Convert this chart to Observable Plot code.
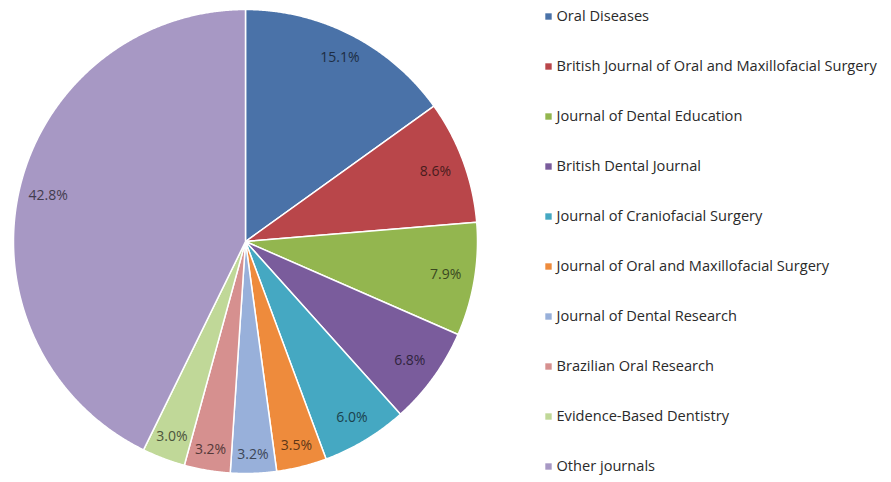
<!DOCTYPE html>
<html>
<head>
<meta charset="utf-8">
<script src="https://cdn.jsdelivr.net/npm/d3@7"></script>
<script src="https://cdn.jsdelivr.net/npm/@observablehq/plot@0.6"></script>
<style>
  html, body { margin: 0; padding: 0; background: #fff; }
  #wrap { display: flex; flex-direction: row; width: 891px; height: 482px; }
</style>
</head>
<body>
<div id="wrap"></div>
<script>
const names = [
  "Oral Diseases",
  "British Journal of Oral and Maxillofacial Surgery",
  "Journal of Dental Education",
  "British Dental Journal",
  "Journal of Craniofacial Surgery",
  "Journal of Oral and Maxillofacial Surgery",
  "Journal of Dental Research",
  "Brazilian Oral Research",
  "Evidence-Based Dentistry",
  "Other journals"
];
const values = [15.1, 8.6, 7.9, 6.8, 6.0, 3.5, 3.2, 3.2, 3.0, 42.8];
const colors = [
  "#4a72a8", "#b9464a", "#93b64f", "#7a5c9c", "#45a8c2",
  "#ee8b3c", "#98b0da", "#d6908f", "#c0d898", "#a798c4"
];

const R = 232;
const font = "'Open Sans', 'Liberation Sans', sans-serif";
const arcs = d3.pie().sort(null).value(d => d)(values);

const slices = arcs.map((a, i) => {
  const ring = [[0, 0]];
  const n = Math.max(2, Math.ceil((a.endAngle - a.startAngle) / 0.005));
  for (let k = 0; k <= n; ++k) {
    const t = a.startAngle + (a.endAngle - a.startAngle) * k / n;
    ring.push([R * Math.sin(t), -R * Math.cos(t)]);
  }
  ring.push([0, 0]);
  return {type: "Feature", properties: {name: names[i]}, geometry: {type: "Polygon", coordinates: [ring]}};
});

const labels = arcs.map((a, i) => {
  const m = (a.startAngle + a.endAngle) / 2;
  const s = Math.sin(m), c = Math.cos(m);
  const r = R - 10 - (18 * Math.abs(s) + 8 * Math.abs(c));
  return {name: names[i], text: values[i].toFixed(1) + "%", x: r * s, y: -r * c,
          color: d3.color(colors[i]).darker(2.6).formatHex()};
});

const pie = Plot.plot({
  width: 490,
  height: 482,
  margin: 0,
  style: {fontFamily: font, background: "#fff"},
  projection: {
    type: "identity",
    inset: 9,
    domain: {type: "MultiPoint", coordinates: [[-R, -R], [R, R]]}
  },
  color: {domain: names, range: colors},
  marks: [
    Plot.geo(slices, {fill: d => d.properties.name, stroke: "#fff", strokeWidth: 1.5, strokeLinejoin: "round"}),
    Plot.text(labels, {x: "x", y: "y", text: "text", fill: "color", fontSize: 14})
  ]
});

const legend = Plot.plot({
  width: 401,
  height: 482,
  margin: 0,
  style: {fontFamily: font, background: "#fff"},
  y: {type: "point", domain: names, range: [13, 468], padding: 0, axis: null},
  color: {domain: names, range: colors},
  marks: [
    Plot.dot(names, {y: d => d, fill: d => d, symbol: "square", r: 3.6, frameAnchor: "left", dx: 58}),
    Plot.text(names, {y: d => d, text: d => d, frameAnchor: "left", dx: 66, textAnchor: "start", fontSize: 14.6, fill: "#2a2a2a"})
  ]
});

const wrap = document.getElementById("wrap");
wrap.appendChild(pie);
wrap.appendChild(legend);
</script>
</body>
</html>
